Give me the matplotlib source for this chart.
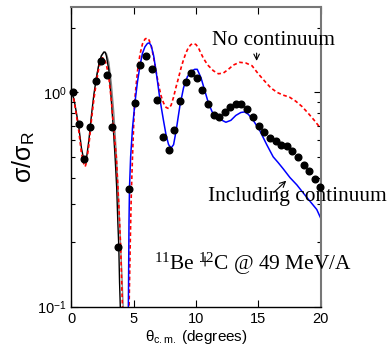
import matplotlib
matplotlib.use("Agg")
import matplotlib.pyplot as plt
from matplotlib.ticker import FixedLocator, NullFormatter, FuncFormatter, LogLocator

plt.rcParams['font.family'] = 'Liberation Sans'
plt.rcParams['mathtext.fontset'] = 'custom'
plt.rcParams['mathtext.rm'] = 'Liberation Serif'
plt.rcParams['mathtext.sf'] = 'Liberation Sans'
plt.rcParams['mathtext.it'] = 'Liberation Serif:italic'

# data points
data_x = [0.15, 0.6, 1.03, 1.49, 1.94, 2.39, 2.85, 3.28, 3.76, 4.64, 5.1, 5.53, 5.98,
          6.44, 6.9, 7.37, 7.83, 8.26, 8.71, 9.17, 9.62, 10.06, 10.5, 10.96, 11.42,
          11.87, 12.3, 12.76, 13.21, 13.64, 14.1, 14.58, 15.04, 15.49, 15.94, 16.4,
          16.85, 17.28, 17.73, 18.19, 18.65, 19.1, 19.56, 19.99]
data_y = [1.0, 0.71, 0.49, 0.69, 1.13, 1.40, 1.21, 0.69, 0.19, 0.355, 0.89, 1.34, 1.47,
          1.28, 0.92, 0.62, 0.54, 0.67, 0.91, 1.12, 1.23, 1.17, 1.03, 0.88, 0.78,
          0.77, 0.81, 0.85, 0.88, 0.88, 0.84, 0.77, 0.70, 0.65, 0.61, 0.59,
          0.57, 0.56, 0.53, 0.50, 0.46, 0.43, 0.395, 0.36]

# black curve (small angles)
black_x = [0.0, 0.2, 0.4, 0.6, 0.8, 1.0, 1.1, 1.2, 1.4, 1.6, 1.8, 2.0, 2.2, 2.4, 2.6,
           2.7, 2.8, 3.0, 3.2, 3.35, 3.5, 3.63, 3.72, 3.8, 3.86, 3.92, 3.96]
black_y = [1.00, 0.93, 0.80, 0.68, 0.55, 0.48, 0.47, 0.49, 0.60, 0.78, 0.98, 1.17, 1.35,
           1.48, 1.54, 1.54, 1.48, 1.27, 0.92, 0.69, 0.50, 0.36, 0.25, 0.19, 0.13, 0.10, 0.08]

# grey companion curve
grey_x = [2.0, 2.2, 2.4, 2.6, 2.8, 3.0, 3.2, 3.4, 3.6, 3.8, 3.95, 4.05, 4.15, 4.2]
grey_y = [1.17, 1.35, 1.48, 1.54, 1.52, 1.38, 1.10, 0.80, 0.52, 0.30, 0.19, 0.14, 0.10, 0.08]

# no continuum (red dashed)
red_x = [0.0, 0.2, 0.4, 0.6, 0.8, 1.0, 1.1, 1.2, 1.4, 1.6, 1.8, 2.0, 2.2, 2.4, 2.5, 2.6,
         2.8, 3.0, 3.2, 3.4, 3.6, 3.8, 3.95, 4.05, 4.12, 4.3, 4.5, 4.58, 4.65, 4.72,
         4.8, 4.9, 5.0, 5.1, 5.3, 5.5, 5.7, 5.9, 6.05, 6.2, 6.4, 6.6, 6.8, 7.0, 7.2,
         7.4, 7.6, 7.8, 8.0, 8.2, 8.4, 8.6, 8.8, 9.0, 9.2, 9.4, 9.6, 9.8, 10.0, 10.2,
         10.4, 10.6, 10.8, 11.0, 11.4, 11.8, 12.2, 12.6, 13.0, 13.5, 14.0, 14.5, 15.0,
         15.5, 16.0, 16.5, 17.0, 17.5, 18.0, 18.5, 19.0, 19.5, 20.0]
red_y = [1.00, 0.92, 0.78, 0.65, 0.52, 0.46, 0.45, 0.47, 0.57, 0.74, 0.93, 1.12, 1.30,
         1.42, 1.45, 1.44, 1.35, 1.17, 0.92, 0.66, 0.50, 0.30, 0.19, 0.12, 0.09, 0.05,
         0.05, 0.07, 0.12, 0.20, 0.33, 0.50, 0.72, 0.95, 1.25, 1.50, 1.68, 1.77, 1.79,
         1.77, 1.65, 1.45, 1.25, 1.08, 0.96, 0.89, 0.85, 0.84, 0.87, 0.95, 1.06, 1.17,
         1.30, 1.42, 1.53, 1.62, 1.67, 1.69, 1.67, 1.61, 1.52, 1.44, 1.38, 1.33, 1.26,
         1.22, 1.23, 1.28, 1.34, 1.38, 1.37, 1.33, 1.22, 1.13, 1.05, 1.00, 0.97, 0.95,
         0.91, 0.86, 0.80, 0.74, 0.68]

# including continuum (blue)
blue_x = [4.55, 4.58, 4.62, 4.66, 4.75, 4.9, 5.1, 5.3, 5.5, 5.7, 5.9, 6.1, 6.25, 6.4,
          6.6, 6.84, 7.1, 7.37, 7.6, 7.8, 8.0, 8.2, 8.4, 8.7, 9.0, 9.3, 9.6, 9.9, 10.1,
          10.4, 10.7, 11.0, 11.3, 11.6, 12.0, 12.4, 12.8, 13.2, 13.6, 13.9, 14.2, 14.6,
          15.14, 15.68, 16.2, 16.6, 17.0, 17.55, 18.1, 18.6, 19.16, 19.7, 20.0]
blue_y = [0.08, 0.12, 0.25, 0.36, 0.50, 0.68, 0.90, 1.12, 1.33, 1.52, 1.63, 1.69, 1.70,
          1.65, 1.48, 1.20, 0.93, 0.75, 0.63, 0.57, 0.55, 0.57, 0.66, 0.86, 1.05, 1.18,
          1.25, 1.28, 1.28, 1.17, 1.02, 0.89, 0.81, 0.77, 0.745, 0.725, 0.74, 0.78,
          0.805, 0.81, 0.79, 0.74, 0.66, 0.57, 0.50, 0.47, 0.44, 0.40, 0.37, 0.34,
          0.31, 0.284, 0.26]

fig = plt.figure(figsize=(3.9, 3.49), dpi=100)
ax = fig.add_axes([0.1833, 0.1212, 0.6385, 0.8588])

ax.plot(grey_x, grey_y, color='#888888', lw=1.0)
ax.plot(black_x, black_y, color='black', lw=1.0)
ax.plot(red_x, red_y, color='red', lw=1.2, linestyle=(0, (2.2, 1.6)))
ax.plot(blue_x, blue_y, color='blue', lw=1.1)
ax.plot(data_x, data_y, 'o', color='black', ms=4.8, clip_on=False, zorder=5)

ax.set_yscale('log')
ax.set_xlim(0, 20)
ax.set_ylim(0.1, 2.5)
ax.xaxis.set_major_locator(FixedLocator([0, 5, 10, 15, 20]))
ax.yaxis.set_major_locator(FixedLocator([0.1, 1.0]))
ax.yaxis.set_major_formatter(FuncFormatter(
    lambda v, p: {0.1: r'10$^{\mathsf{-1}}$', 1.0: r'10$^{\mathsf{0}}$'}.get(round(v, 3), '')))
ax.yaxis.set_minor_locator(LogLocator(base=10, subs=range(2, 10)))
ax.yaxis.set_minor_formatter(NullFormatter())
ax.tick_params(which='both', direction='in', top=True, right=True, labelsize=10.5)
ax.tick_params(which='major', length=5, width=0.8)
ax.tick_params(which='minor', length=3, width=0.8)
for s in ['top', 'right']:
    ax.spines[s].set_color('#777777')
    ax.spines[s].set_linewidth(1.5)
for s in ['left', 'bottom']:
    ax.spines[s].set_linewidth(1.0)

ax.set_xlabel(r'θ$_{\mathsf{c.m.}}$ (degrees)', fontsize=11, labelpad=2)
ax.set_ylabel(r'σ/σ$_{\mathsf{R}}$', fontsize=18, labelpad=0)

serif = 'Liberation Serif'
ax.text(16.2, 1.75, 'No continuum', family=serif, fontsize=15.4, ha='center', va='center')
ax.annotate('', xy=(14.87, 1.36), xytext=(14.87, 1.57),
            arrowprops=dict(arrowstyle='->', color='black', lw=0.8))
ax.text(18.14, 0.327, 'Including continuum', family=serif, fontsize=15.4,
        ha='center', va='center')
ax.annotate('', xy=(17.41, 0.395), xytext=(16.08, 0.334),
            arrowprops=dict(arrowstyle='->', color='black', lw=0.8))
ax.text(6.6, 0.148, r'$^{\mathrm{11}}$Be +$\!\!\!\!\!^{\mathrm{12}}$C @ 49 MeV/A', family=serif,
        fontsize=15.4, ha='left', va='baseline')

fig.savefig('out.png', dpi=100)
